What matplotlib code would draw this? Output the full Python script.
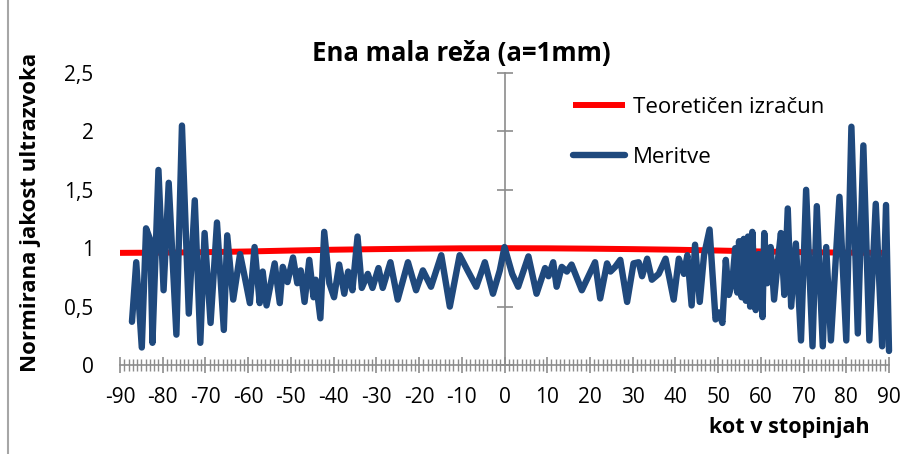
import numpy as np
import matplotlib
matplotlib.use('Agg')
import matplotlib.pyplot as plt
from matplotlib.ticker import MultipleLocator, FuncFormatter
from matplotlib.lines import Line2D

plt.rcParams['axes.unicode_minus'] = False
plt.rcParams['font.family'] = ['Open Sans', 'DejaVu Sans']

# Theoretical curve (read at 10 degree steps)
theory_deg = [-90, -80, -70, -60, -50, -40, -30, -20, -10, 0,
              10, 20, 30, 40, 50, 60, 70, 80, 90]
theory_val = [0.960, 0.962, 0.966, 0.972, 0.980, 0.987, 0.992, 0.996, 0.999, 1.000,
              0.999, 0.996, 0.992, 0.987, 0.980, 0.972, 0.966, 0.962, 0.960]

# Measurements
meas_deg = [-87.2, -86.2, -84.9, -83.9, -82.9, -82.4, -81.0, -79.8, -78.6, -76.8,
            -75.5, -73.9, -72.5, -71.2, -70.2, -68.8, -67.3, -65.7, -64.9, -63.5,
            -61.9, -61.0, -59.6, -58.5, -57.3, -56.6, -55.7, -53.8, -52.6, -51.9,
            -50.8, -49.5, -48.5, -47.7, -46.8, -45.7, -44.7, -44.2, -43.1, -42.2,
            -41.0, -39.9, -38.7, -37.5, -36.6, -35.6, -34.4, -33.4, -32.0, -30.9,
            -29.5, -28.5, -26.7, -25.0, -22.6, -20.7, -19.1, -17.2, -14.8, -12.8,
            -10.5, -8.5, -6.6, -4.6, -2.7, -1.1, 0.0, 1.8, 3.2, 5.6,
            7.5, 9.5, 10.3, 11.4, 12.2, 13.4, 14.6, 15.7, 18.1, 21.2,
            22.4, 24.0, 24.8, 25.9, 27.1, 28.7, 30.2, 31.4, 32.2, 33.4,
            34.5, 36.1, 37.7, 39.6, 40.8, 42.0, 42.8, 43.8, 44.6, 45.7,
            46.7, 48.0, 49.4, 50.2, 51.0, 51.8, 52.5, 53.3, 54.0, 54.5,
            54.9, 55.5, 56.0, 56.5, 57.0, 57.5, 58.0, 58.8, 59.5, 60.4,
            60.8, 61.5, 62.3, 63.1, 64.0, 64.7, 65.5, 66.3, 67.1, 68.2,
            69.4, 70.6, 72.1, 73.1, 74.5, 75.3, 76.4, 78.4, 80.0, 81.2,
            82.7, 84.0, 85.4, 86.9, 88.4, 89.3, 90.0]
meas_val = [0.37, 0.88, 0.15, 1.17, 1.07, 0.19, 1.67, 0.64, 1.56, 0.26,
            2.05, 0.44, 1.41, 0.19, 1.13, 0.36, 1.22, 0.30, 1.11, 0.56,
            0.95, 0.79, 0.53, 1.01, 0.53, 0.80, 0.51, 0.87, 0.53, 0.84,
            0.71, 0.92, 0.70, 0.81, 0.54, 0.90, 0.58, 0.73, 0.40, 1.14,
            0.70, 0.58, 0.86, 0.61, 0.80, 0.64, 1.10, 0.66, 0.78, 0.66,
            0.83, 0.66, 0.88, 0.56, 0.88, 0.64, 0.81, 0.67, 0.94, 0.50,
            0.94, 0.80, 0.67, 0.88, 0.61, 0.81, 1.01, 0.78, 0.67, 0.93,
            0.61, 0.83, 0.76, 0.88, 0.67, 0.84, 0.80, 0.86, 0.64, 0.88,
            0.57, 0.87, 0.80, 0.84, 0.90, 0.54, 0.87, 0.88, 0.76, 0.91,
            0.73, 0.78, 0.91, 0.56, 0.91, 0.78, 0.94, 0.51, 1.03, 0.54,
            0.94, 1.16, 0.39, 0.45, 0.36, 0.90, 0.60, 0.70, 1.00, 0.62,
            1.06, 0.58, 1.08, 0.55, 1.10, 0.50, 1.14, 0.47, 0.95, 0.41,
            1.13, 0.70, 1.01, 0.56, 0.90, 1.13, 0.60, 1.34, 0.50, 1.04,
            0.21, 1.50, 0.16, 1.36, 0.16, 1.01, 0.21, 1.44, 0.21, 2.04,
            0.27, 1.88, 0.21, 1.38, 0.16, 1.37, 0.12]

grey = '#8c8c8c'

fig = plt.figure(figsize=(9.07, 4.54), dpi=100)
ax = fig.add_axes([120 / 907, 1 - 365 / 454, 769 / 907, 292 / 454])

ax.plot(theory_deg, theory_val, color='#ff0000', lw=4.3, label='Teoretičen izračun',
        solid_capstyle='butt', zorder=2)
ax.plot(meas_deg, meas_val, color='#1f497d', lw=4.6, label='Meritve',
        solid_joinstyle='round', solid_capstyle='round', zorder=3, clip_on=False)

ax.set_xlim(-90, 90)
ax.set_ylim(0, 2.5)

for s in ['top', 'right']:
    ax.spines[s].set_visible(False)
ax.spines['left'].set_position(('data', 0))
ax.spines['left'].set_color(grey)
ax.spines['bottom'].set_color(grey)
ax.spines['left'].set_linewidth(1.2)
ax.spines['bottom'].set_linewidth(1.2)

ax.xaxis.set_major_locator(MultipleLocator(10))
ax.xaxis.set_minor_locator(MultipleLocator(1))
ax.yaxis.set_major_locator(MultipleLocator(0.5))
ax.tick_params(axis='x', which='major', direction='inout', length=12, width=1.2,
               color=grey, labelsize=15, pad=10)
ax.tick_params(axis='x', which='minor', direction='inout', length=8, width=1.0,
               color=grey)
ax.tick_params(axis='y', which='major', direction='inout', length=12, width=1.2,
               color=grey, labelleft=False)

# y labels sit at the left edge while the axis line runs through 0
sec = ax.secondary_yaxis('left')
sec.spines['left'].set_visible(False)
sec.yaxis.set_major_locator(MultipleLocator(0.5))
sec.yaxis.set_major_formatter(FuncFormatter(lambda v, p: f'{v:g}'.replace('.', ',')))
sec.tick_params(length=0, pad=19, labelsize=15)

leg = ax.legend(loc='upper left', bbox_to_anchor=(0.589, 0.918), frameon=False,
                prop={'size': 16}, handlelength=2.35, borderpad=0, borderaxespad=0,
                handletextpad=0.36, labelspacing=1.32)

fig.text(461 / 907, 1 - 54 / 454, 'Ena mala reža (a=1mm)', ha='center', va='center',
         fontsize=18.5, fontweight='bold')
fig.text(789 / 907, 1 - 428 / 454, 'kot v stopinjah', ha='center', va='center',
         fontsize=15.5, fontweight='bold')
fig.text(31 / 907, 1 - 212 / 454, 'Normirana jakost ultrazvoka', ha='center', va='center',
         rotation=90, fontsize=16, fontweight='bold')

# chart area border on the left side
fig.lines.append(Line2D([8 / 907, 8 / 907], [0, 1], transform=fig.transFigure,
                        color='#a6a6a6', lw=1.5))

fig.savefig('out.png', dpi=100)
